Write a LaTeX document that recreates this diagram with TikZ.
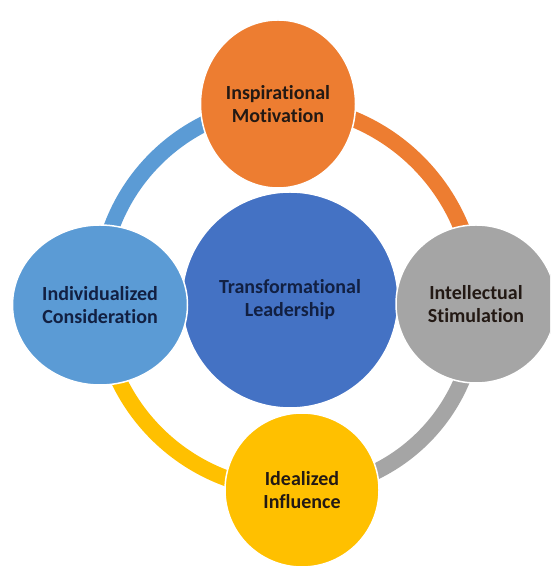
\documentclass[tikz,border=0pt]{standalone}
\usepackage{fontspec}
\setmainfont{Carlito}[Ligatures=NoCommon]
\usetikzlibrary{shapes.geometric,backgrounds}
\definecolor{orangeIM}{RGB}{237,125,49}
\definecolor{grayIS}{RGB}{165,165,165}
\definecolor{goldII}{RGB}{255,192,0}
\definecolor{blueIC}{RGB}{91,155,213}
\definecolor{blueTL}{RGB}{68,114,196}
\definecolor{txtdark}{RGB}{35,25,20}
\definecolor{txtblue}{RGB}{18,32,66}

\begin{document}
\begin{tikzpicture}[x=1pt,y=1pt,
  bubble/.style={ellipse,draw=white,line width=1.5pt,align=center,inner sep=0pt,
    font=\fontsize{20}{23}\selectfont\bfseries,text=txtdark},
  ring/.style={line width=16pt,bend left=45}]
\path[use as bounding box,clip] (0,0) rectangle (550,569);
\node[bubble,fill=blueTL,text=txtblue,minimum width=216pt,minimum height=216pt] (lead) at (290,269) {Transformational\\Leadership};
\node[bubble,fill=orangeIM,minimum width=155pt,minimum height=168pt] (insp) at (278,465) {Inspirational\\Motivation};
\node[bubble,fill=grayIS,minimum width=160pt,minimum height=158pt] (intel) at (476,265) {Intellectual\\Stimulation};
\node[bubble,fill=goldII,minimum width=154pt,minimum height=154pt] (ideal) at (302,79) {Idealized\\Influence};
\node[bubble,fill=blueIC,text=txtblue,minimum width=175pt,minimum height=160pt] (indiv) at (100,264) {Individualized\\Consideration};
\begin{pgfonlayer}{background}
\fill[white] (0,0) rectangle (550,569);
\draw[ring,orangeIM] (insp.center) to (intel.center);
\draw[ring,grayIS] (intel.center) to (ideal.center);
\draw[ring,goldII] (ideal.center) to (indiv.center);
\draw[ring,blueIC] (indiv.center) to (insp.center);
\end{pgfonlayer}
\end{tikzpicture}
\end{document}
